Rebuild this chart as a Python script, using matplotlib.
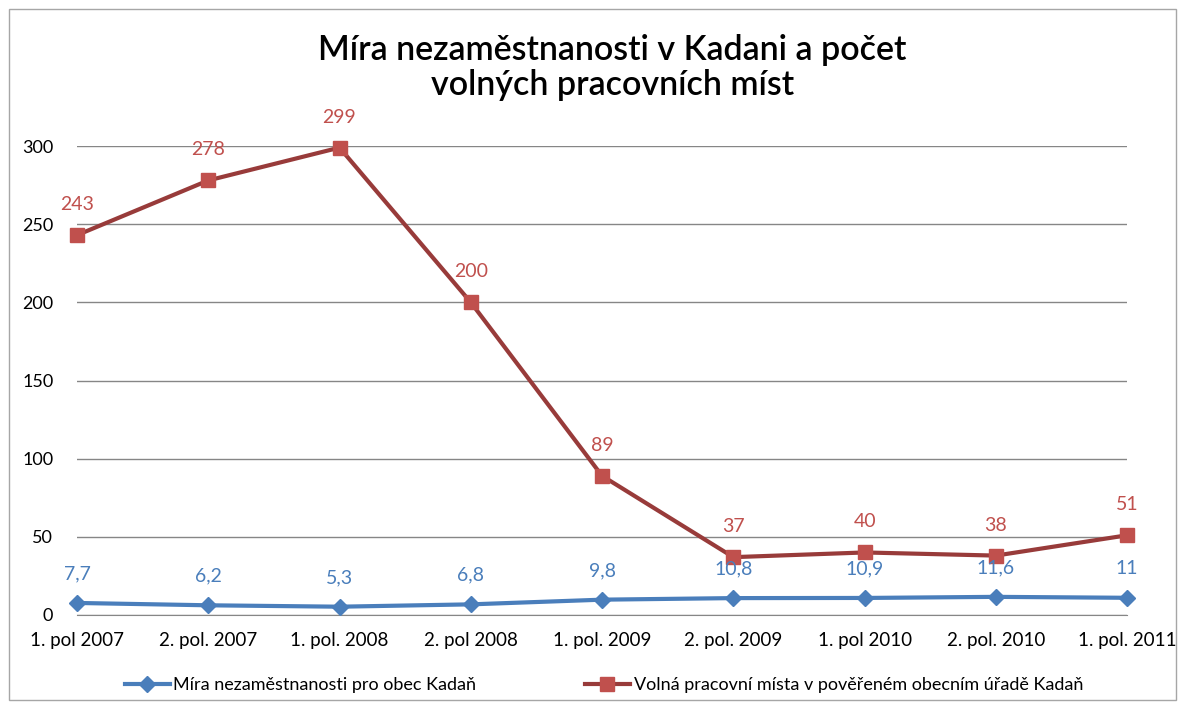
import matplotlib.pyplot as plt
from matplotlib.patches import Rectangle
from matplotlib.lines import Line2D

# Data
categories = ["1. pol 2007", "2. pol. 2007", "1. pol. 2008", "2. pol 2008", "1. pol. 2009",
              "2. pol. 2009", "1. pol 2010", "2. pol. 2010", "1. pol. 2011"]
unemployment = [7.7, 6.2, 5.3, 6.8, 9.8, 10.8, 10.9, 11.6, 11]
vacancies = [243, 278, 299, 200, 89, 37, 40, 38, 51]
unemp_labels = ["7,7", "6,2", "5,3", "6,8", "9,8", "10,8", "10,9", "11,6", "11"]
yticks = [0, 50, 100, 150, 200, 250, 300]

title = "Míra nezaměstnanosti v Kadani a počet\nvolných pracovních míst"
legend_labels = ["Míra nezaměstnanosti pro obec Kadaň",
                 "Volná pracovní místa v pověřeném obecním úřadě Kadaň"]

BLUE = "#4A7EBB"
RED_LINE = "#983B3A"
RED_MARK = "#C0504D"
FONT = ["Lato", "DejaVu Sans"]

plt.rcParams['font.family'] = FONT

fig = plt.figure(figsize=(11.84, 7.09), dpi=100)
fig.patches.append(Rectangle((0.008, 0.012), 0.985, 0.975, transform=fig.transFigure,
                             fill=False, edgecolor="#A6A6A6", linewidth=1))
ax = fig.add_axes([0.065, 0.1326, 0.887, 0.6614])

x = list(range(len(categories)))
ax.plot(x, unemployment, color=BLUE, linewidth=3, marker="D", markersize=8.5,
        markerfacecolor=BLUE, markeredgecolor=BLUE, zorder=3, clip_on=False)
ax.plot(x, vacancies, color=RED_LINE, linewidth=3, marker="s", markersize=10.5,
        markerfacecolor=RED_MARK, markeredgecolor=RED_MARK, zorder=3, clip_on=False)

for xi, v, lab in zip(x, unemployment, unemp_labels):
    ax.annotate(lab, (xi, v), xytext=(0, 21), textcoords="offset points",
                ha="center", va="center", color=BLUE, fontsize=14)
for xi, v in zip(x, vacancies):
    ax.annotate(str(v), (xi, v), xytext=(0, 22), textcoords="offset points",
                ha="center", va="center", color=RED_MARK, fontsize=14)

ax.set_xlim(0, len(categories) - 1)
ax.set_ylim(0, 300)
ax.set_yticks(yticks)
ax.set_xticks(x)
ax.set_xticklabels(categories, fontsize=13.5)
ax.tick_params(axis="both", length=0, colors="black")
ax.tick_params(axis="x", pad=12, labelsize=13.5)
ax.tick_params(axis="y", pad=17, labelsize=13)
ax.grid(axis="y", color="#868686", linewidth=1)
ax.set_axisbelow(True)
for side in ["top", "right", "left"]:
    ax.spines[side].set_visible(False)
ax.spines["bottom"].set_color("#868686")

fig.text(0.517, 0.905, title, ha="center", va="center", fontsize=24.5,
         fontweight="semibold", linespacing=1.1)

handles = [Line2D([], [], color=BLUE, linewidth=3, marker="D", markersize=8.5),
           Line2D([], [], color=RED_LINE, linewidth=3, marker="s", markersize=10.5,
                  markerfacecolor=RED_MARK, markeredgecolor=RED_MARK)]
fig.legend(handles, legend_labels, loc="center", bbox_to_anchor=(0.51, 0.034),
           ncol=2, frameon=False, fontsize=13, columnspacing=6, handlelength=2.5,
           handletextpad=0.2)

fig.savefig("out.png", dpi=100)
